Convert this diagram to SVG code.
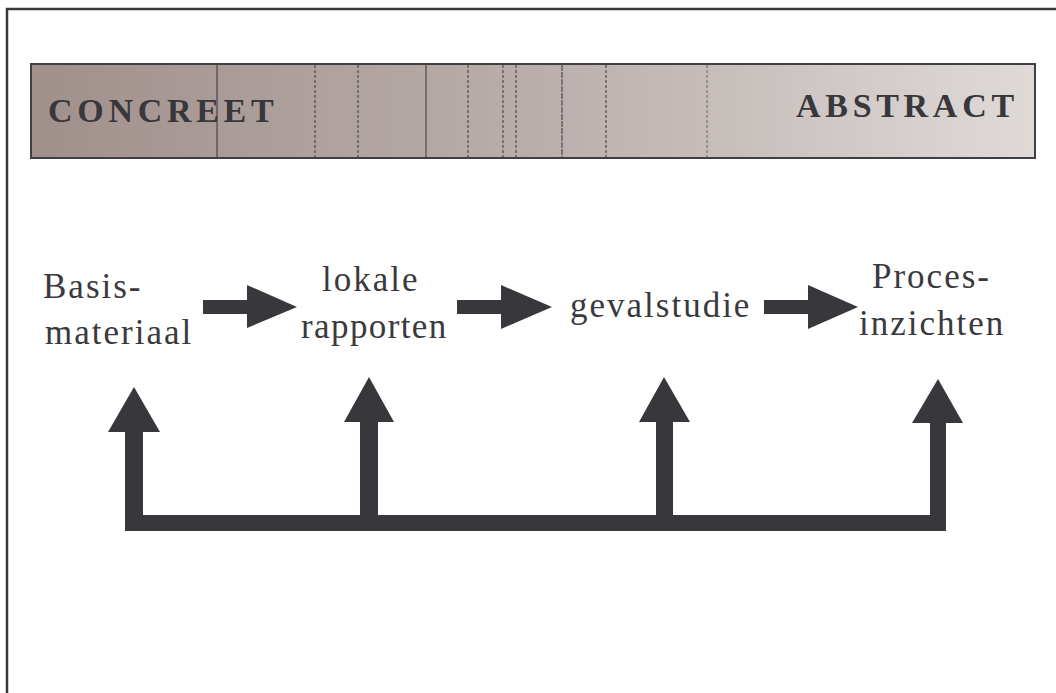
<svg xmlns="http://www.w3.org/2000/svg" width="1056" height="693" viewBox="0 0 1056 693">
<defs>
<linearGradient id="barGrad" x1="0" y1="0" x2="1" y2="0">
<stop offset="0" stop-color="#a0908c"/>
<stop offset="0.5" stop-color="#b9aeab"/>
<stop offset="1" stop-color="#dfdad8"/>
</linearGradient>
<style>
.frame{stroke:#38373b;stroke-width:2.5;fill:none}
.div{stroke:#38373b;stroke-width:1}
.dash{stroke:#38373b;stroke-width:1;stroke-dasharray:3 2}
.big{font-family:"Liberation Serif",serif;font-weight:bold;font-size:34px;fill:#38373b;letter-spacing:4.7px}
.lbl{font-family:"Liberation Serif",serif;font-size:35px;fill:#3a393d;letter-spacing:2px}
.arr{fill:#38373b}
</style>
</defs>
<rect width="1056" height="693" fill="#ffffff"/>
<g id="frame">
<path class="frame" d="M7,693 V9 H1056"/>
</g>
<g id="bar">
<rect x="31" y="64" width="1004" height="94" fill="url(#barGrad)" stroke="#3f3e42" stroke-width="2"/>
<line class="div" x1="217" y1="65" x2="217" y2="157"/>
<line class="div" x1="426" y1="65" x2="426" y2="157"/>
<line class="dash" x1="315" y1="65" x2="315" y2="157"/>
<line class="dash" x1="358" y1="65" x2="358" y2="157"/>
<line class="dash" x1="468" y1="65" x2="468" y2="157"/>
<line class="dash" x1="503" y1="65" x2="503" y2="157"/>
<line class="dash" x1="516" y1="65" x2="516" y2="157"/>
<line class="dash" x1="562" y1="65" x2="562" y2="157" style="stroke-dasharray:6 1"/>
<line class="dash" x1="606" y1="65" x2="606" y2="157"/>
<line class="dash" x1="707" y1="65" x2="707" y2="157" style="stroke:#666"/>
<text class="big" x="48" y="122">CONCREET</text>
<text class="big" x="796" y="117">ABSTRACT</text>
</g>
<g id="node-basis">
<text class="lbl" x="43" y="298">Basis-</text>
<text class="lbl" x="45" y="344">materiaal</text>
</g>
<g id="node-lokale">
<text class="lbl" x="322" y="291">lokale</text>
<text class="lbl" x="301" y="338" style="letter-spacing:1.4px">rapporten</text>
</g>
<g id="node-geval">
<text class="lbl" x="570" y="317">gevalstudie</text>
</g>
<g id="node-proces">
<text class="lbl" x="872" y="288">Proces-</text>
<text class="lbl" x="859" y="335">inzichten</text>
</g>
<g id="connectors">
<polygon class="arr" points="203,300 247,300 247,285 297,307 247,328 247,314 203,314"/>
<polygon class="arr" points="457,300 501,300 501,285 552,307 501,329 501,314 457,314"/>
<polygon class="arr" points="764,300 808,300 808,285 858,307 808,329 808,314 764,314"/>
<path class="arr" d="M125,531 V432 H108 L134,387 L160,432 H143 V515 H360 V422 H344 L369,377 L394,422 H378 V515 H656 V422 H639 L664,377 L690,422 H673 V515 H930 V423 H912 L938,379 L963,423 H946 V531 Z"/>
</g>
</svg>
